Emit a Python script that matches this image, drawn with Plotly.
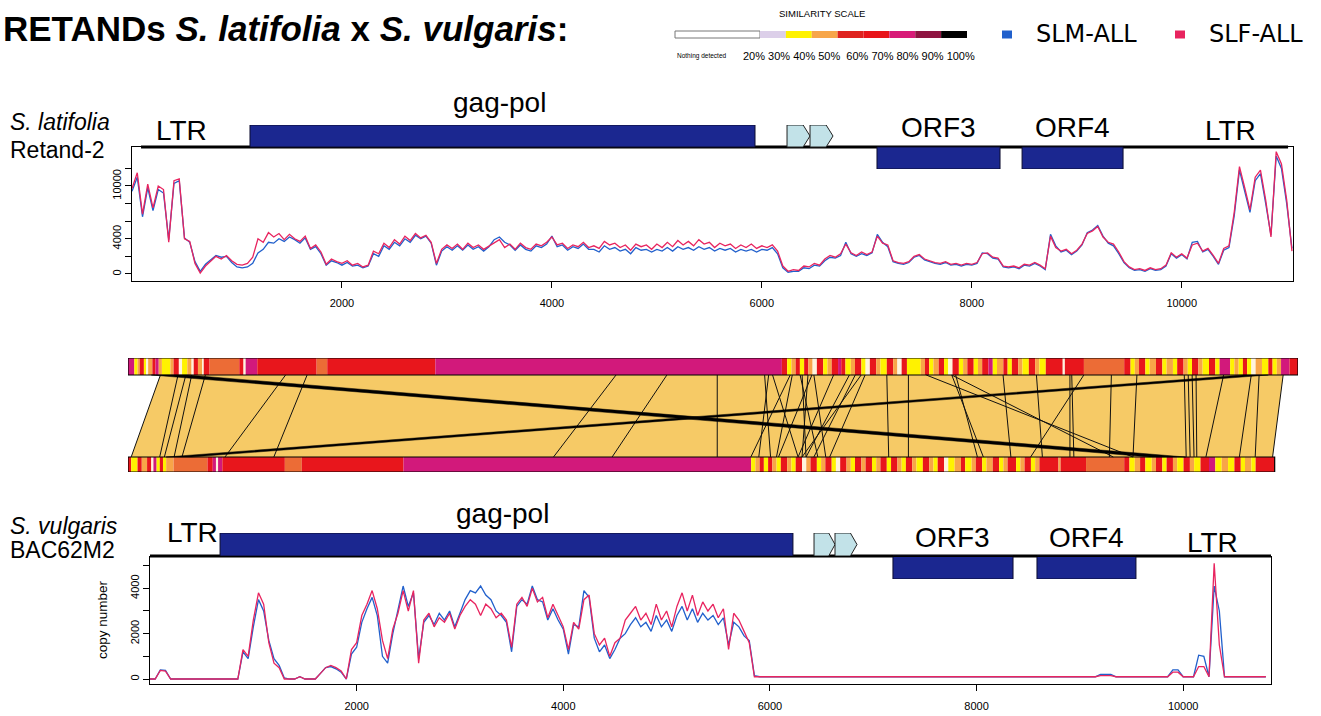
import plotly.graph_objects as go

W, H = 1321, 716


def fx(p):
    return p / W


def fy(p):
    return 1 - p / H


FONT = "Liberation Sans, Arial, sans-serif"
BLUE = "#2160cc"
PINK = "#e8245f"

# ---------------- top panel: S. latifolia Retand-2 (copy number) ----------------
TOP_POS = list(range(0, 11051, 50))
TOP_SLF = [
    9700, 11500, 6800, 10200, 7500, 10000, 9600, 3600, 10600, 10800,
    4000, 3700, 1200, 100, 900, 1400, 2000, 1700, 2100, 1500,
    1100, 1000, 1200, 1900, 4000, 3600, 4700, 4200, 4600, 3900,
    4500, 4000, 3700, 4300, 2900, 3300, 2500, 1100, 1700, 1400,
    1200, 1500, 1000, 1200, 800, 1000, 2600, 2300, 3500, 3000,
    3900, 3400, 4300, 3800, 4600, 4100, 4400, 3600, 1200, 2800,
    3300, 2900, 3400, 2800, 3500, 3000, 3300, 2800, 3200, 3600,
    3900, 3000, 3400, 2800, 3500, 3000, 2800, 3400, 3200, 3600,
    4200, 3300, 3500, 2900, 3300, 3100, 3600, 3000, 3200, 2900,
    3700, 3300, 3500, 3000, 3300, 2700, 3400, 3100, 3300, 2800,
    3400, 3000, 3600, 3100, 3800, 3300, 3700, 3200, 3900, 3400,
    3600, 3000, 3500, 3200, 3400, 2900, 3300, 3000, 3400, 2900,
    3200, 3000, 3300, 2600, 900, 300, 500, 400, 900, 800,
    1200, 1000, 1700, 2100, 1900, 2300, 3400, 2400, 2100, 2500,
    2200, 2500, 4300, 3500, 3300, 1500, 1300, 1200, 1400, 2000,
    2200, 1700, 1500, 1300, 1200, 1400, 1100, 1200, 1000, 1200,
    1100, 1300, 2300, 2400, 1900, 1800, 900, 800, 900, 700,
    1100, 1000, 1300, 1000, 600, 4300, 3000, 2600, 2800, 2300,
    2700, 3400, 4600, 4900, 5400, 4200, 3600, 3400, 2500, 1400,
    800, 500, 600, 400, 700, 500, 600, 1000, 2400, 1900,
    2300, 1800, 3300, 3500, 2600, 2900, 2100, 1200, 2900, 3200,
    7000, 12200, 9800, 7300, 11000, 11800, 8400, 4200, 13900, 12500,
    8400, 2600,
]
TOP_SLM = [
    9400, 11000, 6500, 9800, 7200, 9600, 9200, 3900, 10300, 10600,
    4100, 3600, 1400, 300, 1100, 1600, 2100, 1900, 2000, 1300,
    800, 700, 800, 1200, 2400, 2800, 3600, 3500, 4000, 3700,
    4200, 3900, 3500, 4100, 2800, 3100, 2300, 1000, 1500, 1300,
    1000, 1300, 900, 1000, 700, 900, 2300, 2000, 3200, 2800,
    3600, 3200, 4000, 3600, 4400, 4000, 4300, 3500, 1000, 2600,
    3100, 2700, 3200, 2700, 3300, 2800, 3100, 2600, 3100, 3900,
    4200, 3600, 3300, 2700, 3300, 2800, 2600, 3200, 3000, 3400,
    4300, 3100, 3300, 2700, 3100, 2900, 3400, 2800, 2800, 2500,
    3200, 2800, 3000, 2600, 2800, 2300, 3000, 2700, 2800, 2500,
    2800, 2600, 3000, 2600, 3100, 2800, 3000, 2700, 3100, 2800,
    3000, 2600, 2900, 2700, 2900, 2500, 2800, 2600, 2800, 2500,
    2800, 2700, 3000, 2300, 700, 200, 300, 300, 700, 600,
    1000, 900, 1500, 1900, 1800, 2100, 3600, 2300, 2000, 2300,
    2100, 2400, 4500, 3600, 3100, 1400, 1200, 1100, 1300, 1900,
    2100, 1600, 1400, 1200, 1100, 1300, 1000, 1100, 900, 1100,
    1000, 1200, 2400, 2300, 1800, 1700, 800, 700, 800, 600,
    1000, 900, 1200, 900, 500, 4500, 3200, 2500, 2700, 2200,
    2600, 3300, 4700, 5000, 5500, 4300, 3500, 3200, 2300, 1300,
    700, 400, 500, 300, 600, 400, 500, 900, 2300, 1800,
    2200, 1700, 3600, 3700, 2500, 2800, 2000, 1100, 2700, 3000,
    6600, 11800, 9400, 7000, 10600, 11400, 8000, 4400, 13400, 12000,
    8000, 2900,
]
TOP_XTICKS = [2000, 4000, 6000, 8000, 10000]
TOP_YTICKS = [0, 2000, 4000, 6000, 8000, 10000, 12000]
TOP_YTEXT = ["0", "", "4000", "", "", "10000", ""]

# ---------------- bottom panel: S. vulgaris BAC62M2 ----------------
BOT_POS = list(range(0, 10801, 50))
BOT_SLF = [
    0, 0, 380, 350, 0, 0, 0, 0, 0, 0,
    0, 0, 0, 0, 0, 0, 0, 0, 1300, 1000,
    2600, 3800, 3300, 1600, 700, 500, 0, 0, 0, 100,
    0, 0, 0, 250, 500, 600, 500, 350, 0, 1300,
    1600, 2800, 3300, 3900, 3100, 1700, 900, 2200, 2900, 3900,
    3000, 3900, 700, 2600, 2900, 2300, 2700, 2500, 2900, 2200,
    2800, 3200, 3500, 3300, 2800, 3300, 3100, 2700, 2900, 2600,
    1400, 3300, 3600, 3200, 4000, 3400, 3600, 2700, 3300, 2800,
    2300, 1300, 2500, 2200, 3500, 3700, 2000, 1500, 1800, 1000,
    1600, 1800, 2600, 2900, 3200, 2600, 2900, 2400, 3300, 2600,
    3000, 2300, 3200, 3800, 3000, 3700, 2800, 3400, 3000, 3300,
    2700, 3100, 1300, 2900, 2600, 2100, 1600, 100, 100, 100,
    100, 100, 100, 100, 100, 100, 100, 100, 100, 100,
    100, 100, 100, 100, 100, 100, 100, 100, 100, 100,
    100, 100, 100, 100, 100, 100, 100, 100, 100, 100,
    100, 100, 100, 100, 100, 100, 100, 100, 100, 100,
    100, 100, 100, 100, 100, 100, 100, 100, 100, 100,
    100, 100, 100, 100, 100, 100, 100, 100, 100, 100,
    100, 100, 100, 100, 150, 150, 150, 100, 100, 100,
    100, 100, 100, 100, 100, 100, 100, 100, 300, 300,
    100, 100, 100, 550, 550, 100, 5100, 1500, 100, 100,
    100, 100, 100, 100, 100, 100, 100,
]
BOT_SLM = [
    0, 0, 400, 380, 0, 0, 0, 0, 0, 0,
    0, 0, 0, 0, 0, 0, 0, 0, 1200, 900,
    2300, 3500, 3000, 1700, 900, 600, 50, 0, 0, 100,
    0, 0, 0, 250, 500, 550, 450, 300, 0, 1100,
    1400, 2500, 3100, 3600, 2800, 1000, 700, 2000, 3100, 4100,
    3200, 3800, 900, 2500, 2800, 2400, 2900, 2600, 3000, 2300,
    2900, 3500, 3900, 3800, 4100, 3700, 3500, 3000, 2800, 2500,
    1200, 3200, 3500, 3300, 4100, 3500, 3400, 2600, 3100, 2600,
    2200, 1100, 2400, 2300, 3900, 3600, 1800, 1200, 1500, 900,
    1300, 1800, 2000, 2400, 2700, 2300, 2500, 2100, 2800, 2300,
    2600, 2100, 2800, 3200, 2600, 3100, 2500, 2900, 2600, 2800,
    2400, 2700, 1500, 2500, 2300, 1900, 1700, 150, 100, 100,
    100, 100, 100, 100, 100, 100, 100, 100, 100, 100,
    100, 100, 100, 100, 100, 100, 100, 100, 100, 100,
    100, 100, 100, 100, 100, 100, 100, 100, 100, 100,
    100, 100, 100, 100, 100, 100, 100, 100, 100, 100,
    100, 100, 100, 100, 100, 100, 100, 100, 100, 100,
    100, 100, 100, 100, 100, 100, 100, 100, 100, 100,
    100, 100, 100, 100, 200, 200, 200, 100, 100, 100,
    100, 100, 100, 100, 100, 100, 100, 100, 400, 400,
    100, 100, 100, 1050, 1000, 100, 4100, 3000, 100, 100,
    100, 100, 100, 100, 100, 100, 100,
]
BOT_XTICKS = [2000, 4000, 6000, 8000, 10000]
BOT_YTICKS = [0, 1000, 2000, 3000, 4000, 5000]
BOT_YTEXT = ["0", "", "2000", "", "4000", ""]

# ---------------- gene annotation tracks (bp) ----------------
TOP_BACKBONE = [86, 11013]
TOP_GAGPOL = [1124, 5935]
TOP_ARROWS = [[6240, 6459], [6459, 6678]]
TOP_ORFS = [[7097, 8269], [8479, 9441]]
TOP_LABELS = ["LTR", "gag-pol", "ORF3", "ORF4", "LTR"]
TOP_LABEL_BP = [470, 3500, 7683, 8960, 10460]

BOT_BACKBONE = [0, 10850]
BOT_GAGPOL = [678, 6223]
BOT_ARROWS = [[6427, 6630], [6630, 6843]]
BOT_ORFS = [[7191, 8353], [8585, 9543]]
BOT_LABELS = ["LTR", "gag-pol", "ORF3", "ORF4", "LTR"]
BOT_LABEL_BP = [410, 3410, 7772, 9064, 10280]

# ---------------- comparison (ACT-like) panel ----------------
CMP_TOP_LEN = 11040
CMP_BOT_LEN = 10820
CMP_RULER = [0, 1000, 2000, 3000, 4000, 5000, 6000, 7000, 8000, 9000, 10000]
TOP_BAND_START = [
    0, 60, 90, 110, 150, 175, 190, 230, 260, 290,
    320, 400, 430, 480, 510, 560, 600, 620, 660, 700,
    715, 770, 1050, 1090, 1110, 1220, 1780, 1880, 2900,
    6170, 6220, 6260, 6300, 6340, 6380, 6420, 6460, 6500, 6560,
    6600, 6640, 6700, 6730, 6770, 6820, 6860, 6920, 6960, 7000,
    7060, 7100, 7160, 7220, 7260, 7300, 7350, 7480, 7520, 7560,
    7600, 7650, 7700, 7740, 7780, 7840, 7880, 7920, 7980, 8020,
    8060, 8120, 8160, 8200, 8260, 8300, 8340, 8400, 8440, 8500,
    8560, 8600, 8660, 8820, 8840, 9020, 9400, 9460, 9500, 9540,
    9600, 9640, 9700, 9760, 9800, 9860, 9900, 9960, 10000, 10040,
    10100, 10140, 10200, 10260, 10300, 10400, 10440, 10480, 10520, 10560,
    10600, 10640, 10700, 10760, 10800, 10840, 10880, 10960,
]
TOP_BAND_KEY = ("PYORYWORPO" "YORWYOWROW" "RSRWPRSRP"
                "RYORYROWRY" "ORPRYORYWR" "OYROWRYORY" "ORYWRYORYO" "RPYORYROYR"
                "OYRWRSRYOR" "YORYOYROYR" "OYRYPYOYRY" "WOYRYOPR")
BOT_BAND_START = [
    0, 30, 90, 130, 180, 220, 240, 270, 300, 330,
    360, 430, 750, 800, 830, 850, 890, 1480, 1640, 2600,
    5880, 5920, 5960, 6000, 6040, 6080, 6120, 6160, 6220, 6260,
    6300, 6360, 6400, 6440, 6500, 6540, 6580, 6640, 6680, 6720,
    6780, 6820, 6860, 6920, 6960, 7020, 7060, 7100, 7160, 7200,
    7260, 7300, 7340, 7400, 7440, 7500, 7560, 7600, 7640, 7700,
    7740, 7800, 7860, 7900, 7960, 8000, 8060, 8100, 8160, 8220,
    8260, 8300, 8380, 8420, 8460, 8520, 8560, 8600, 8780, 8800,
    9040, 9400, 9450, 9500, 9550, 9600, 9660, 9700, 9760, 9800,
    9860, 9900, 9960, 10020, 10060, 10120, 10200, 10260, 10320, 10380,
    10440, 10500, 10540, 10600, 10640,
]
BOT_BAND_KEY = ("RYRORWPYRY" "OSRPWPRSRP" "YORYROYROY" "RWORYORYWR" "OYRORYORYR"
                "OYROYROYRW" "YORYORYORY" "ORYORYOROR" "SRYORYORYR" "OYROYRPYOY" "RYOYR")
BAND_COLORS = {"P": "#d2197b", "Y": "#fff200", "O": "#f8a548", "R": "#e8161c",
               "W": "#fff3dc", "S": "#ec6c36"}

# matches: position on S. latifolia (top) -> position on S. vulgaris (bottom)
HIT_TOP = [306, 472, 546, 601, 730, 1487, 1690, 4605, 5085, 5560,
           6007, 6045, 6082, 6249, 6268, 6342, 6361, 6416, 6453, 6472,
           6658, 6807, 6862, 6918, 6955, 7160, 7364, 7532, 7773, 7773,
           7810, 8257, 8572, 8888, 8905, 9019, 9279, 9520, 9967, 10004,
           10041, 10078, 10338, 10599, 10673, 10900]
HIT_BOT = [30, 299, 343, 435, 509, 915, 1376, 4015, 4568, 5560,
           6063, 5952, 6323, 5877, 6119, 6509, 6398, 6360, 6138, 6584,
           6323, 6398, 6472, 6360, 6621, 7178, 7364, 9483, 9297, 8071,
           8015, 8331, 8628, 8888, 8925, 8517, 9260, 9483, 9985, 10022,
           10059, 10085, 10171, 10487, 10636, 10800]
# long LTR-to-LTR matches (start, end on top; start, end on bottom)
LTR_HITS = [[220, 560, 9640, 9980], [10520, 10760, 360, 600]]

# ---------------- similarity scale & legend ----------------
SIM_LABELS = "20% 30% 40% 50%  60% 70% 80% 90% 100%"
SIM_COLORS = ["#dccfe9", "#fff200", "#f7a64a", "#df231f", "#e8141a", "#d81b78", "#8e1441", "#000000"]
LEGEND_NAMES = ["SLM-ALL", "SLF-ALL"]
LEGEND_COLORS = [BLUE, PINK]

fig = go.Figure()


def add(tr):
    tr.update(showlegend=False, hoverinfo="skip")
    fig.add_trace(tr)


# --- top copy number plot
add(go.Scatter(x=TOP_POS, y=TOP_SLM, mode="lines", line=dict(color=BLUE, width=1.3), xaxis="x", yaxis="y"))
add(go.Scatter(x=TOP_POS, y=TOP_SLF, mode="lines", line=dict(color=PINK, width=1.3), xaxis="x", yaxis="y"))


def track(backbone, gag, arrows, orfs, xa, ya):
    add(go.Scatter(x=backbone, y=[0, 0], mode="lines", line=dict(color="black", width=3), xaxis=xa, yaxis=ya))
    for a, b, lo, hi in [(gag[0], gag[1], 0, 1)] + [(o[0], o[1], -1, 0) for o in orfs]:
        add(go.Scatter(x=[a, b, b, a, a], y=[lo, lo, hi, hi, lo], mode="lines", fill="toself",
                       fillcolor="#1b2790", line=dict(color="#0c0c2e", width=1), xaxis=xa, yaxis=ya))
    for a, b in arrows:
        t = (b - a) * 0.3
        add(go.Scatter(x=[a, b - t, b, b - t, a, a], y=[0, 0, 0.5, 1, 1, 0], mode="lines", fill="toself",
                       fillcolor="#c2e2e8", line=dict(color="#222222", width=1), xaxis=xa, yaxis=ya))


track(TOP_BACKBONE, TOP_GAGPOL, TOP_ARROWS, TOP_ORFS, "x2", "y2")

# --- comparison panel
add(go.Scatter(x=[HIT_TOP[0], HIT_TOP[-1], HIT_BOT[-1], HIT_BOT[0], HIT_TOP[0]], y=[97, 97, 15, 15, 97],
               mode="lines", fill="toself", fillcolor="#f6ca66", line=dict(width=0), xaxis="x3", yaxis="y3"))
for starts, keys, length, yc, wd in [(TOP_BAND_START, TOP_BAND_KEY, CMP_TOP_LEN, 105.5, 17),
                                     (BOT_BAND_START, BOT_BAND_KEY, CMP_BOT_LEN, 7.5, 15)]:
    ends = starts[1:] + [length]
    add(go.Bar(x=[e - s for s, e in zip(starts, ends)], base=starts, y=[yc] * len(starts), width=wd,
               orientation="h", marker=dict(color=[BAND_COLORS[k] for k in keys], line=dict(width=0)),
               xaxis="x3", yaxis="y3"))
    add(go.Scatter(x=[0, length, length, 0, 0], y=[yc - wd / 2, yc - wd / 2, yc + wd / 2, yc + wd / 2, yc - wd / 2],
                   mode="lines", line=dict(color="black", width=1.2), xaxis="x3", yaxis="y3"))
lx, ly = [], []
for a, b in zip(HIT_TOP, HIT_BOT):
    lx += [a, b, None]
    ly += [97, 15, None]
add(go.Scatter(x=lx, y=ly, mode="lines", line=dict(color="#111111", width=1), xaxis="x3", yaxis="y3"))
for a1, a2, b1, b2 in LTR_HITS:
    add(go.Scatter(x=[a1, a2, b2, b1, a1], y=[97, 97, 15, 15, 97], mode="lines", fill="toself",
                   fillcolor="#000000", line=dict(color="#000000", width=0.5), xaxis="x3", yaxis="y3"))

# --- bottom
track(BOT_BACKBONE, BOT_GAGPOL, BOT_ARROWS, BOT_ORFS, "x4", "y4")
add(go.Scatter(x=BOT_POS, y=BOT_SLM, mode="lines", line=dict(color=BLUE, width=1.3), xaxis="x5", yaxis="y5"))
add(go.Scatter(x=BOT_POS, y=BOT_SLF, mode="lines", line=dict(color=PINK, width=1.3), xaxis="x5", yaxis="y5"))

tickfont = dict(family=FONT, size=11, color="black")
plot_axis = dict(showline=True, mirror=True, linecolor="black", linewidth=1, ticks="outside", ticklen=6,
                 tickcolor="black", showgrid=False, zeroline=False, tickfont=tickfont, tickformat="d")
hidden = dict(visible=False, showgrid=False, zeroline=False)

fig.update_layout(
    width=W, height=H, margin=dict(l=0, r=0, t=0, b=0), autosize=False,
    paper_bgcolor="white", plot_bgcolor="rgba(0,0,0,0)", barmode="overlay", showlegend=False,
    xaxis=dict(domain=[fx(132), fx(1293)], range=[0, 11060], tickvals=TOP_XTICKS, ticklabelstandoff=6,
               anchor="y", **plot_axis),
    yaxis=dict(domain=[fy(281), fy(147)], range=[-800, 14430], tickvals=TOP_YTICKS, ticktext=TOP_YTEXT,
               tickangle=-90, anchor="x", **plot_axis),
    xaxis2=dict(domain=[fx(132), fx(1293)], range=[0, 11060], anchor="y2", **hidden),
    yaxis2=dict(domain=[fy(169), fy(125)], range=[-1, 1], anchor="x2", **hidden),
    xaxis3=dict(domain=[fx(128), fx(1298)], range=[0, CMP_TOP_LEN], anchor="y3", **hidden),
    yaxis3=dict(domain=[fy(472), fy(358)], range=[0, 114], anchor="x3", **hidden),
    xaxis4=dict(domain=[fx(150), fx(1271)], range=[0, 10850], anchor="y4", **hidden),
    yaxis4=dict(domain=[fy(579), fy(533)], range=[-1, 1], anchor="x4", **hidden),
    xaxis5=dict(domain=[fx(150), fx(1271)], range=[0, 10850], tickvals=BOT_XTICKS, ticklabelstandoff=6,
                anchor="y5", **plot_axis),
    yaxis5=dict(domain=[fy(684), fy(557)], range=[-220, 5380], tickvals=BOT_YTICKS, ticktext=BOT_YTEXT,
                tickangle=-90, anchor="x5", **plot_axis),
)

ann = []


def text(x, y, s, size, xref="paper", yref="paper", xanchor="left", family=FONT, color="black", angle=0):
    ann.append(dict(x=x, y=y, text=s, xref=xref, yref=yref, xanchor=xanchor, yanchor="middle",
                    showarrow=False, textangle=angle, font=dict(family=family, size=size, color=color)))


text(fx(1), fy(28), "<b>RETANDs <i>S. latifolia</i> x <i>S. vulgaris</i>:</b>", 35)
text(fx(8), fy(122), "<i>S. latifolia</i>", 23)
text(fx(8), fy(150), "Retand-2", 23)
text(fx(8), fy(526), "<i>S. vulgaris</i>", 23)
text(fx(8), fy(550), "BAC62M2", 23)
for lab, bp, yy in zip(TOP_LABELS, TOP_LABEL_BP, [131, 103, 127, 127, 131]):
    text(bp, fy(yy), lab, 28, xref="x2", xanchor="center")
for lab, bp, yy in zip(BOT_LABELS, BOT_LABEL_BP, [532, 513, 537, 537, 542]):
    text(bp, fy(yy), lab, 28, xref="x4", xanchor="center")
text(fx(102), fy(620), "copy number", 13.5, xanchor="center", angle=-90)

RULER_FONT = "Lato, Open Sans, sans-serif"
for v in CMP_RULER:
    text(v, 132, str(v), 15.5, xref="x3", yref="y3", family=RULER_FONT, color="#333333")
    text(v, -17, str(v), 15.5, xref="x3", yref="y3", family=RULER_FONT, color="#333333")
text(11000, 132, "11", 15.5, xref="x3", yref="y3", family=RULER_FONT, color="#333333")

# similarity scale
text(fx(822), fy(13), "SIMILARITY SCALE", 9.5, xanchor="center")
text(fx(675), fy(56), "Nothing detected", 6.5)
text(fx(741), fy(56), SIM_LABELS, 11)
shapes = [dict(type="rect", xref="paper", yref="paper", x0=fx(675), x1=fx(760), y0=fy(38), y1=fy(31),
               fillcolor="white", line=dict(color="#777777", width=1))]
seg_w = (967 - 760) / len(SIM_COLORS)
for i, c in enumerate(SIM_COLORS):
    shapes.append(dict(type="rect", xref="paper", yref="paper", x0=fx(760 + i * seg_w), x1=fx(760 + (i + 1) * seg_w),
                       y0=fy(38), y1=fy(31), fillcolor=c, line=dict(width=0)))

# legend
for name, col, sx in zip(LEGEND_NAMES, LEGEND_COLORS, [1007, 1180]):
    shapes.append(dict(type="rect", xref="paper", yref="paper", x0=fx(sx - 5), x1=fx(sx + 5), y0=fy(38.5), y1=fy(30.5),
                       fillcolor=col, line=dict(width=0)))
    text(fx(sx + 27), fy(34), name, 24, family="DejaVu Sans, sans-serif")

fig.update_layout(annotations=ann, shapes=shapes)
fig.write_html("out.html", config={"displayModeBar": False},
               post_script="document.body.style.margin='0px';")
